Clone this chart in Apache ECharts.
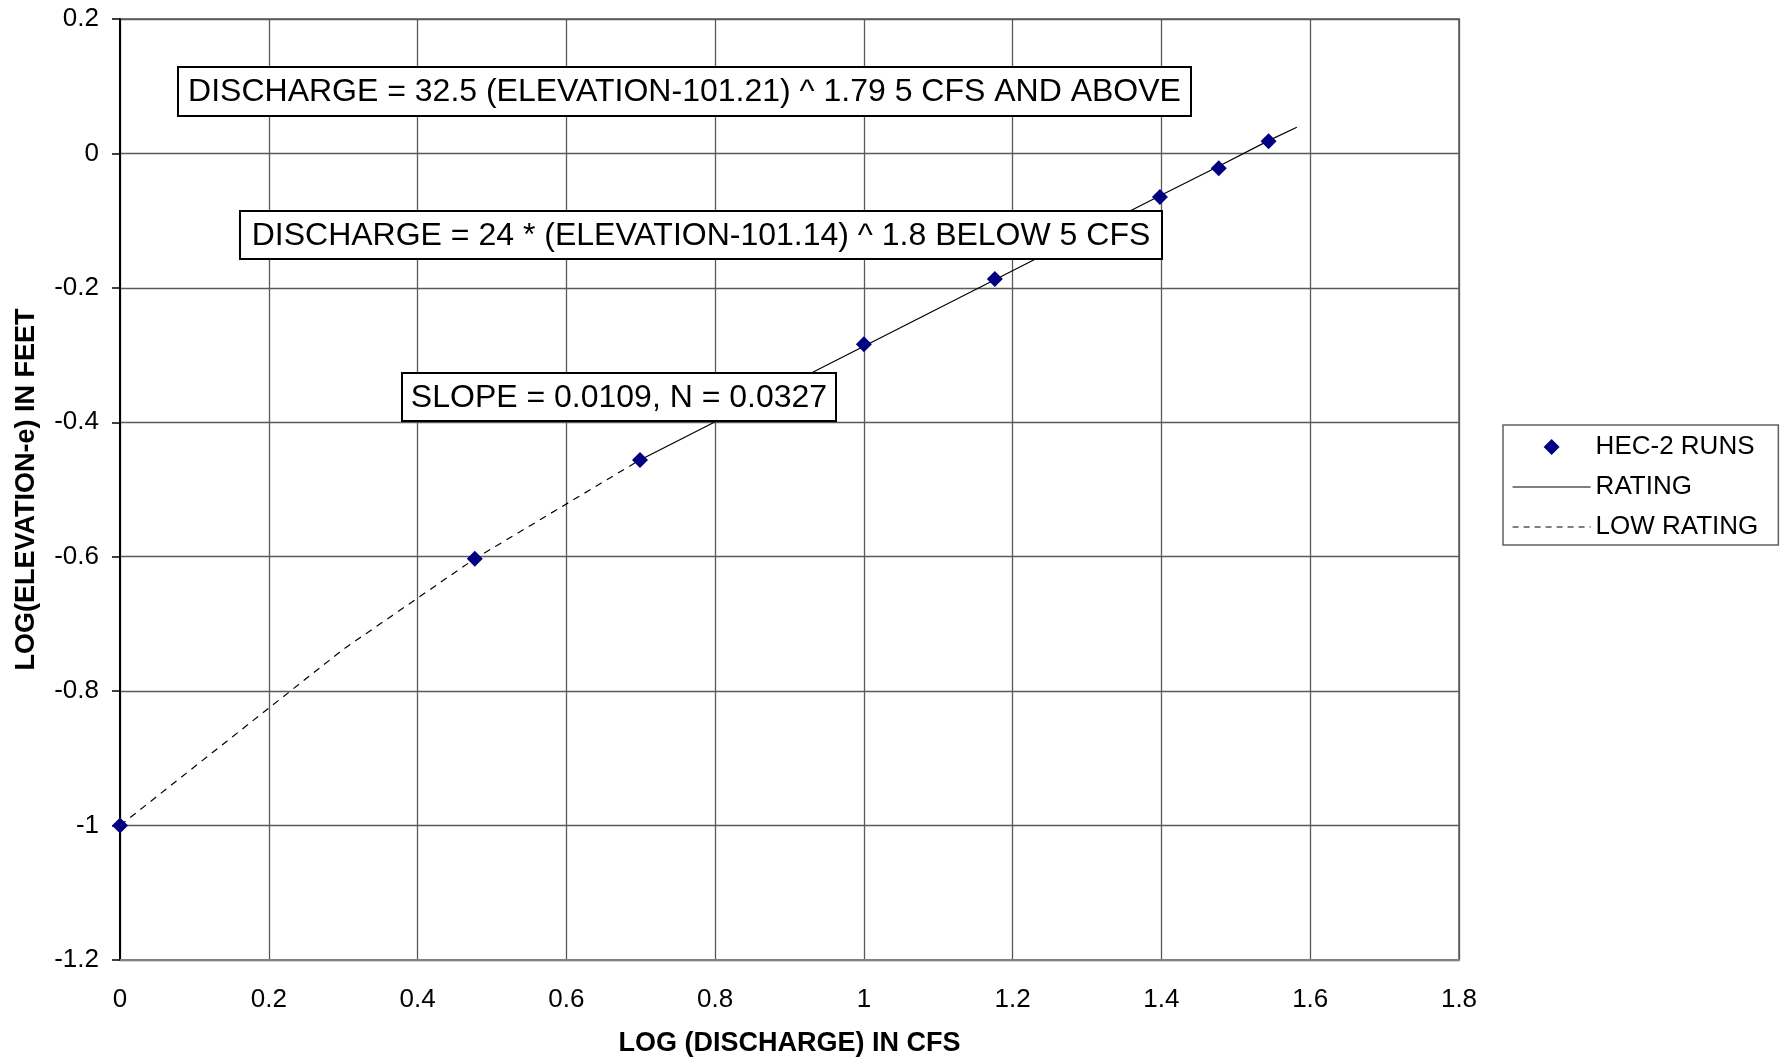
<!DOCTYPE html>
<html>
<head>
<meta charset="utf-8">
<script src="https://cdn.jsdelivr.net/npm/echarts@6/dist/echarts.min.js"></script>
<style>
html,body{margin:0;padding:0;background:#fff;}
#chart{width:1788px;height:1062px;}
</style>
</head>
<body>
<div id="chart"></div>
<script>
// ---- data ----
const runsX = [0, 0.477, 0.699, 1.0, 1.176, 1.398, 1.477, 1.544];
const runsY = [-1.0, -0.603, -0.456, -0.284, -0.187, -0.065, -0.022, 0.018];
const ratingX = [0.699, 1.0, 1.176, 1.398, 1.477, 1.544, 1.582];
const ratingY = [-0.456, -0.287, -0.188, -0.063, -0.019, 0.019, 0.039];
const lowX = [0, 0.301, 0.477, 0.699];
const lowY = [-1.0, -0.737, -0.603, -0.456];
const seriesNames = ['HEC-2 RUNS', 'RATING', 'LOW RATING'];
const xTitle = 'LOG (DISCHARGE) IN CFS';
const yTitle = 'LOG(ELEVATION-e) IN FEET';
const notes = [
  'DISCHARGE = 32.5 (ELEVATION-101.21) ^ 1.79 5 CFS AND ABOVE',
  'DISCHARGE = 24 * (ELEVATION-101.14) ^ 1.8 BELOW 5 CFS',
  'SLOPE = 0.0109, N = 0.0327'
];

const FONT = '"Liberation Sans", Arial, Helvetica, sans-serif';
const zip = (xs, ys) => xs.map((x, i) => [x, ys[i]]);
const fmt = v => String(Math.round(v * 10) / 10);

const boxes = [
  {x: 178, y: 67, w: 1013, h: 49},
  {x: 240, y: 211, w: 922, h: 48},
  {x: 402, y: 373, w: 434, h: 48}
];

// legend diamond icon padded to the 78x16 legend item box so it is not stretched
const legendDiamond = 'path://M0,8L0,8M78,8L78,8M31,8L39,0L47,8L39,16Z';

const chart = echarts.init(document.getElementById('chart'), null, {renderer: 'canvas'});
chart.setOption({
  backgroundColor: '#fff',
  animation: false,
  textStyle: {fontFamily: FONT},
  grid: {
    left: 120, top: 19, right: 329, bottom: 102,
    show: true, borderColor: '#808080', borderWidth: 2,
    containLabel: false, outerBoundsMode: 'none'
  },
  legend: {
    orient: 'vertical',
    left: 1503, top: 425,
    padding: [9, 20, 5, 9],
    itemWidth: 78, itemHeight: 16, itemGap: 14,
    borderColor: '#606060', borderWidth: 1.5,
    backgroundColor: '#fff',
    textStyle: {fontFamily: FONT, fontSize: 26, color: '#000', lineHeight: 26},
    data: [
      {name: seriesNames[0], icon: legendDiamond, itemStyle: {color: '#000080', opacity: 1, borderWidth: 0}},
      {name: seriesNames[1], itemStyle: {opacity: 0}, lineStyle: {color: '#000', width: 1.2, type: 'solid', opacity: 1}},
      {name: seriesNames[2], itemStyle: {opacity: 0}, lineStyle: {color: '#000', width: 1.2, type: [6, 5], opacity: 1}}
    ]
  },
  xAxis: {
    type: 'value', min: 0, max: 1.8, interval: 0.2,
    name: xTitle, nameLocation: 'middle', nameGap: 70,
    nameTextStyle: {fontFamily: FONT, fontSize: 27, fontWeight: 'bold', color: '#000'},
    axisLine: {show: true, onZero: false, lineStyle: {color: '#808080', width: 2}},
    axisTick: {show: false},
    axisLabel: {fontFamily: FONT, fontSize: 26, color: '#000', margin: 27, formatter: fmt},
    splitLine: {show: true, lineStyle: {color: '#5a5a5a', width: 1.3}}
  },
  yAxis: {
    type: 'value', min: -1.2, max: 0.2, interval: 0.2,
    name: yTitle, nameLocation: 'middle', nameGap: 80, nameRotate: 90,
    nameTextStyle: {fontFamily: FONT, fontSize: 27, fontWeight: 'bold', color: '#000'},
    axisLine: {show: true, onZero: false, lineStyle: {color: '#000', width: 2}},
    axisTick: {show: true, inside: false, length: 8, lineStyle: {color: '#000', width: 1.5}},
    axisLabel: {fontFamily: FONT, fontSize: 26, color: '#000', margin: 21, formatter: fmt},
    splitLine: {show: true, lineStyle: {color: '#5a5a5a', width: 1.3}}
  },
  series: [
    {
      name: seriesNames[0], type: 'scatter', data: zip(runsX, runsY),
      symbol: 'diamond', symbolSize: 16,
      itemStyle: {color: '#000080', opacity: 1}, z: 5
    },
    {
      name: seriesNames[1], type: 'line', data: zip(ratingX, ratingY),
      showSymbol: false, symbol: 'none', color: '#000',
      lineStyle: {color: '#000', width: 1.2, type: 'solid'}, z: 3
    },
    {
      name: seriesNames[2], type: 'line', data: zip(lowX, lowY),
      showSymbol: false, symbol: 'none', color: '#000',
      lineStyle: {color: '#000', width: 1.2, type: [7, 6]}, z: 3
    }
  ],
  graphic: boxes.map((b, i) => ({
    type: 'group', x: b.x, y: b.y, z: 100,
    children: [
      {type: 'rect', z: 100, shape: {x: 0, y: 0, width: b.w, height: b.h},
       style: {fill: '#fff', stroke: '#000', lineWidth: 2}},
      {type: 'text', z: 101,
       style: {text: notes[i], x: b.w / 2, y: b.h / 2 + 1, align: 'center', verticalAlign: 'middle',
               fontFamily: FONT, fontSize: 32, fill: '#000'}}
    ]
  }))
});
</script>
</body>
</html>
